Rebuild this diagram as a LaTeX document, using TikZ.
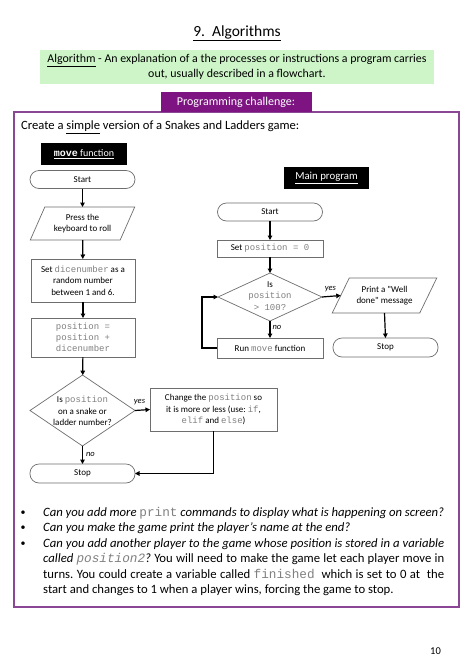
\documentclass[tikz,border=0pt]{standalone}
\usepackage{fontspec}
\setmainfont{Carlito}
\newfontfamily\cmono{Liberation Mono}
\usetikzlibrary{shapes.geometric,arrows.meta,calc}
\definecolor{codegray}{RGB}{128,128,128}
\definecolor{boxgray}{RGB}{110,110,110}
\definecolor{defgreen}{RGB}{205,245,200}
\definecolor{tabpurple}{RGB}{125,20,130}
\definecolor{framepurple}{RGB}{140,70,150}
\newcommand{\cd}[1]{{\cmono\color{codegray}#1}}
\newcommand{\sq}{{\addfontfeature{Ligatures=TeXOff}"}}
\frenchspacing
\tikzset{
  fbox/.style={draw=boxgray, line width=0.7pt, fill=white, inner sep=0pt, outer sep=0pt, align=center, font=\fontsize{9}{11.5}\selectfont},
  term/.style={fbox, rounded corners=9pt},
  iobox/.style={fbox, trapezium, trapezium left angle=60, trapezium right angle=120, trapezium stretches},
  iobox2/.style={fbox, trapezium, trapezium left angle=55, trapezium right angle=125, trapezium stretches},
  decbox/.style={fbox, diamond},
  dtext/.style={align=center, inner sep=0pt, font=\fontsize{9}{11.5}\selectfont},
  blackbox/.style={fill=black, text=white, inner sep=0pt, font=\fontsize{10}{12}\selectfont},
  arr/.style={-{Triangle[length=4.5pt,width=4.5pt]}, line width=1.2pt},
  lbl/.style={font=\fontsize{8.5}{10}\selectfont\itshape, inner sep=0pt},
  btext/.style={anchor=base west, inner sep=0pt, text width=401pt, align=justify, font=\fontsize{12.7}{15.5}\selectfont\itshape},
  bul/.style={inner sep=0pt, font=\fontsize{10}{12}\selectfont}
}
\begin{document}
\begin{tikzpicture}[x=1pt,y=-1pt]
\useasboundingbox[fill=white] (0,0) rectangle (474,670);
% title
\node[inner sep=0pt, font=\fontsize{15.5}{18}\selectfont] (title) at (237,33) {\underline{9.\ \ Algorithms}};
% definition box
\node[fill=defgreen, minimum width=394pt, minimum height=34pt, inner sep=0pt, align=center, font=\fontsize{11.9}{14.5}\selectfont] (defn) at (237,67) {\underline{Algorithm} - An explanation of a the processes or instructions a program carries\\out, usually described in a flowchart.};
% frame
\draw[framepurple, line width=1.6pt] (14,112) rectangle (459,607);
\node[fill=tabpurple, text=white, minimum width=151pt, minimum height=20pt, inner sep=0pt, font=\fontsize{12}{14}\selectfont] (tab) at (236,102) {Programming challenge:};
\node[anchor=base west, inner sep=0pt, font=\fontsize{12.6}{14}\selectfont] (intro) at (21,129.5) {Create a \underline{simple} version of a Snakes and Ladders game:};
% ---------- move function ----------
\node[blackbox, minimum width=86pt, minimum height=22pt] (mvlbl) at (84,154) {\underline{{\cmono\bfseries move} function}};
\node[term, minimum width=105pt, minimum height=18pt] (ls) at (82.5,179.5) {Start};
\node[iobox, minimum width=105pt, minimum height=33pt] (lp) at (82.5,223.5) {Press the\\keyboard to roll};
\node[fbox, minimum width=104pt, minimum height=43pt] (ld) at (83,280.5) {Set \cd{dicenumber} as a\\random number\\between 1 and 6.};
\node[fbox, minimum width=104pt, minimum height=39pt, font=\fontsize{9}{11}\selectfont] (lpos) at (83,337.5) {\cd{position =}\\\cd{position +}\\\cd{dicenumber}};
\node[decbox, minimum width=105pt, minimum height=71pt] (ldec) at (82.5,410.5) {};
\node[dtext] (ldect) at (82.5,411) {Is \cd{position}\\on a snake or\\ladder number?};
\node[fbox, minimum width=127pt, minimum height=43pt] (lch) at (213.5,409.5) {Change the \cd{position} so\\it is more or less (use: \cd{if},\\\cd{elif} and \cd{else})};
\node[term, minimum width=105pt, minimum height=19pt] (lstop) at (82.5,473.5) {Stop};
\draw[arr] (ls) -- (lp);
\draw[arr] (lp) -- (ld);
\draw[arr] (ld) -- (lpos);
\draw[arr] (lpos) -- (ldec);
\draw[arr] (ldec) -- node[lbl, right=3pt, pos=0.45] (lno) {no} (lstop);
\draw[arr] (ldec.east) -- node[lbl, above=5pt, pos=0.3] (lyes) {yes} (lch.west);
\draw[arr] (lch.south) |- (lstop.east);
% ---------- main program ----------
\node[blackbox, minimum width=85pt, minimum height=22pt, font=\fontsize{10.8}{12}\selectfont] (mplbl) at (326.5,178) {\underline{Main program}};
\node[term, minimum width=105pt, minimum height=18pt] (rs) at (270,212) {Start};
\node[fbox, minimum width=106pt, minimum height=17pt] (rset) at (270,248.5) {Set \cd{position = 0}};
\node[decbox, minimum width=104pt, minimum height=48pt] (rdec) at (270,297) {};
\node[dtext, font=\fontsize{9}{11.5}\selectfont] (rdect) at (270,296) {Is\\\cd{position}\\\cd{> 100?}};
\node[iobox2, minimum width=105pt, minimum height=35pt] (rpr) at (384.5,295.5) {Print a \sq Well\\done\sq{} message};
\node[fbox, minimum width=106pt, minimum height=20pt] (rrun) at (270,348) {Run \cd{move} function};
\node[term, minimum width=105pt, minimum height=19pt] (rstop) at (385.5,347.5) {Stop};
\coordinate (rloop) at (202,348);
\draw[arr] (rs) -- (rset);
\draw[arr] (rset) -- (rdec);
\draw[arr] (rdec.east) -- node[lbl, above=4pt, pos=0.45] (ryes) {yes} (rpr.west);
\draw[arr] (rdec.south) -- node[lbl, right=2pt, pos=0.4] (rno) {no} (rrun.north);
\draw[arr] (rpr.south) -- (rstop.north);
\draw[arr] (rrun.west) -- (rloop) |- (rdec.west);
% ---------- bullets ----------
\node[bul] (b1) at (23,513) {\textbullet};
\node[bul] (b2) at (23,528) {\textbullet};
\node[bul] (b3) at (23,544) {\textbullet};
\node[btext] (t1) at (43,516.5) {Can you add more {\cmono\upshape\color{codegray}print} commands to display what is happening on screen?\linebreak};
\node[btext] (t2) at (43,531.5) {Can you make the game print the player's name at the end?};
\node[btext] (t3) at (43,547) {Can you add another player to the game whose position is stored in a variable\linebreak called {\cmono\color{codegray}position2}? \upshape You will need to make the game let each player move in\linebreak turns. You could create a variable called \cd{finished}\ \ which is set to 0 at\ \ the\linebreak start and changes to 1 when a player wins, forcing the game to stop.};
\node[inner sep=0pt, font=\fontsize{10.5}{12}\selectfont] (pnum) at (435.5,651) {10};
\end{tikzpicture}
\end{document}
